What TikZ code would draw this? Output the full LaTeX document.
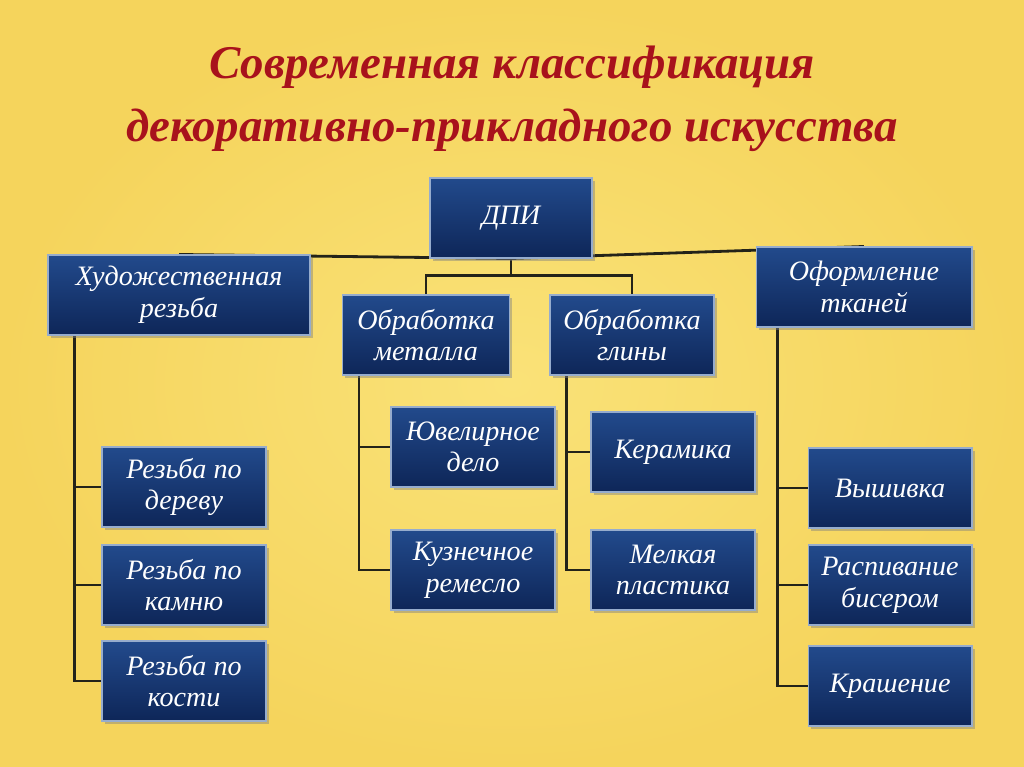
\documentclass[tikz,border=0pt]{standalone}
\usepackage{fontspec}
\setmainfont{Liberation Serif}
\usetikzlibrary{shadows}
\definecolor{bgyellow}{RGB}{245,212,92}
\definecolor{bglight}{RGB}{250,226,120}
\definecolor{boxtop}{RGB}{34,74,140}
\definecolor{boxbot}{RGB}{14,38,88}
\definecolor{boxrim}{RGB}{150,172,205}
\definecolor{titlered}{RGB}{168,18,28}
\definecolor{linkcol}{RGB}{35,35,25}
\pgfdeclarelayer{back}
\pgfdeclarelayer{links}
\pgfsetlayers{back,links,main}
\tikzset{
  catnode/.style = {shape=rectangle, draw=boxrim, line width=0.6pt,
                    top color=boxtop, bottom color=boxbot,
                    drop shadow={shadow xshift=1.5pt, shadow yshift=-1.5pt, opacity=0.45},
                    text=white, align=center, inner sep=2pt,
                    minimum height=1.6cm,
                    font=\itshape\fontsize{16}{18}\selectfont},
  leaf/.style    = {catnode, minimum width=3.28cm},
  link/.style    = {draw=linkcol, line width=1.6pt}
}

\begin{document}
\begin{tikzpicture}
  [
    x = 0.02cm,
    y = -0.02cm
  ]
  \useasboundingbox (0,0) rectangle (1024,767);
  \begin{pgfonlayer}{back}
    \shade [inner color=bglight, outer color=bgyellow] (0,0) rectangle (1024,767);
  \end{pgfonlayer}

  \node [text=titlered, align=center,
         font=\bfseries\itshape\fontsize{26.7}{36}\selectfont] (title) at (512,99)
        {Современная классификация\\декоративно-прикладного искусства};

  % top level
  \node [catnode, minimum width=3.24cm] (dpi)   at (511,218) {ДПИ};
  \node [catnode, minimum width=5.24cm] (hud)   at (179,295) {Художественная\\резьба};
  \node [catnode, minimum width=3.34cm] (metal) at (426,335) {Обработка\\металла};
  \node [catnode, minimum width=3.28cm] (glina) at (632,335) {Обработка\\глины};
  \node [catnode, minimum width=4.32cm] (tkani) at (864,287) {Оформление\\тканей};

  % second level
  \node [leaf] (rder) at (184,487) {Резьба по\\дереву};
  \node [leaf] (rkam) at (184,585) {Резьба по\\камню};
  \node [leaf] (rkos) at (184,681) {Резьба по\\кости};
  \node [leaf] (juv)  at (473,447) {Ювелирное\\дело};
  \node [leaf] (kuz)  at (473,570) {Кузнечное\\ремесло};
  \node [leaf] (ker)  at (673,452) {Керамика};
  \node [leaf] (mel)  at (673,570) {Мелкая\\пластика};
  \node [leaf] (vysh) at (890,488) {Вышивка};
  \node [leaf] (bis)  at (890,585) {Распивание\\бисером};
  \node [leaf] (kra)  at (890,686) {Крашение};

  \begin{pgfonlayer}{links}
    \draw [link] (dpi.south) -- (hud.north);
    \draw [link] (dpi.south) -- (tkani.north);
    \draw [link] (dpi.south) -- ++(0,17) -| (metal.north);
    \draw [link] (dpi.south) -- ++(0,17) -| (glina.north);
    \foreach \kid in {rder,rkam,rkos}
      \draw [link] ([xshift=0.54cm]hud.south west) |- (\kid.west);
    \foreach \kid in {juv,kuz}
      \draw [link] ([xshift=0.34cm]metal.south west) |- (\kid.west);
    \foreach \kid in {ker,mel}
      \draw [link] ([xshift=0.34cm]glina.south west) |- (\kid.west);
    \foreach \kid in {vysh,bis,kra}
      \draw [link] ([xshift=0.44cm]tkani.south west) |- (\kid.west);
  \end{pgfonlayer}
\end{tikzpicture}
\end{document}
